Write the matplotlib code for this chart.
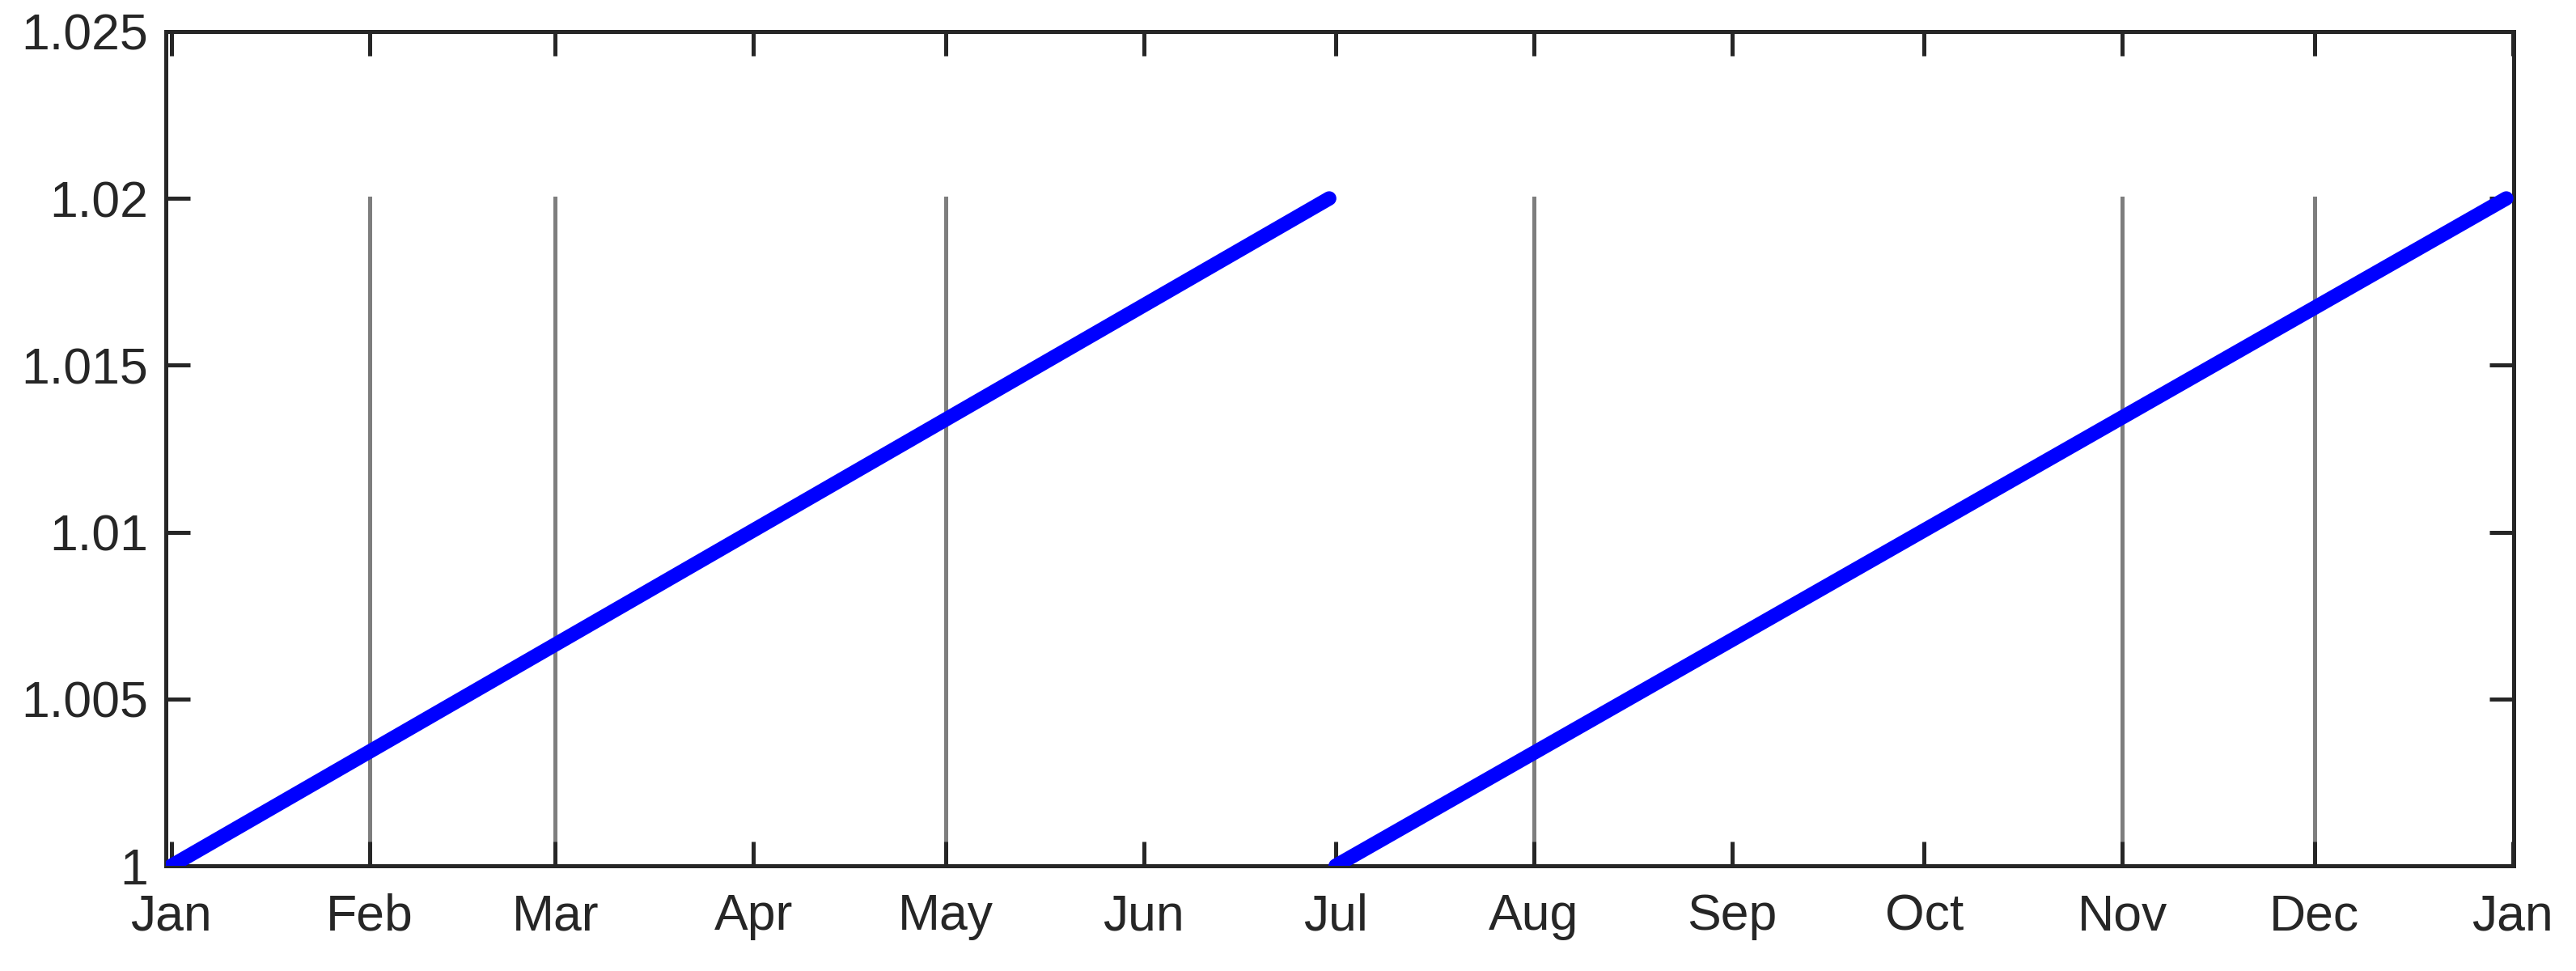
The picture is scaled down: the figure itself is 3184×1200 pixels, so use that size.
import datetime as dt
import matplotlib
matplotlib.use("Agg")
import matplotlib.pyplot as plt
import matplotlib.dates as mdates

# ---- data ----
seg1_dates = [dt.datetime(2020, 1, 1), dt.datetime(2020, 6, 30)]
seg1_values = [1.000, 1.020]
seg2_dates = [dt.datetime(2020, 7, 1), dt.datetime(2020, 12, 31)]
seg2_values = [1.000, 1.020]
event_dates = [dt.datetime(2020, 2, 1), dt.datetime(2020, 3, 1), dt.datetime(2020, 5, 1),
               dt.datetime(2020, 8, 1), dt.datetime(2020, 11, 1), dt.datetime(2020, 12, 1)]
event_low = 1.000
event_high = 1.020
month_ticks = [dt.datetime(2020, m, 1) for m in range(1, 13)] + [dt.datetime(2021, 1, 1)]
month_labels = ["Jan", "Feb", "Mar", "Apr", "May", "Jun", "Jul",
                "Aug", "Sep", "Oct", "Nov", "Dec", "Jan"]
y_ticks = [1.000, 1.005, 1.010, 1.015, 1.020, 1.025]
y_labels = ["1", "1.005", "1.01", "1.015", "1.02", "1.025"]

plt.rcParams['font.family'] = ['Liberation Sans', 'DejaVu Sans']
ink = '#262626'

fig = plt.figure(figsize=(15.92, 6.0), dpi=200)
ax = fig.add_axes([0.0644, 0.1083, 0.9758 - 0.0644, 0.9675 - 0.1083])

for d in event_dates:
    ax.plot([d, d], [event_low, event_high], color='#7e7e7e', lw=1.8, zorder=1)

ax.plot(seg1_dates, seg1_values, color='#0000ff', lw=6.4, solid_capstyle='round', zorder=3)
ax.plot(seg2_dates, seg2_values, color='#0000ff', lw=6.4, solid_capstyle='round', zorder=3)

x0 = mdates.date2num(dt.datetime(2020, 1, 1)) - 0.85
x1 = mdates.date2num(dt.datetime(2021, 1, 1)) + 0.15
ax.set_xlim(x0, x1)
ax.set_ylim(1.0, 1.025)

ax.set_xticks(month_ticks)
ax.set_xticklabels(month_labels)
ax.set_yticks(y_ticks)
ax.set_yticklabels(y_labels)

ax.tick_params(axis='both', which='major', direction='in', length=10.8, width=1.8,
               color=ink, labelcolor=ink, labelsize=22.5, top=True, right=True)
ax.tick_params(axis='y', pad=8)
ax.tick_params(axis='x', pad=12)
for s in ax.spines.values():
    s.set_linewidth(1.8)
    s.set_color(ink)

fig.savefig("out.png", dpi=200, facecolor='white')
